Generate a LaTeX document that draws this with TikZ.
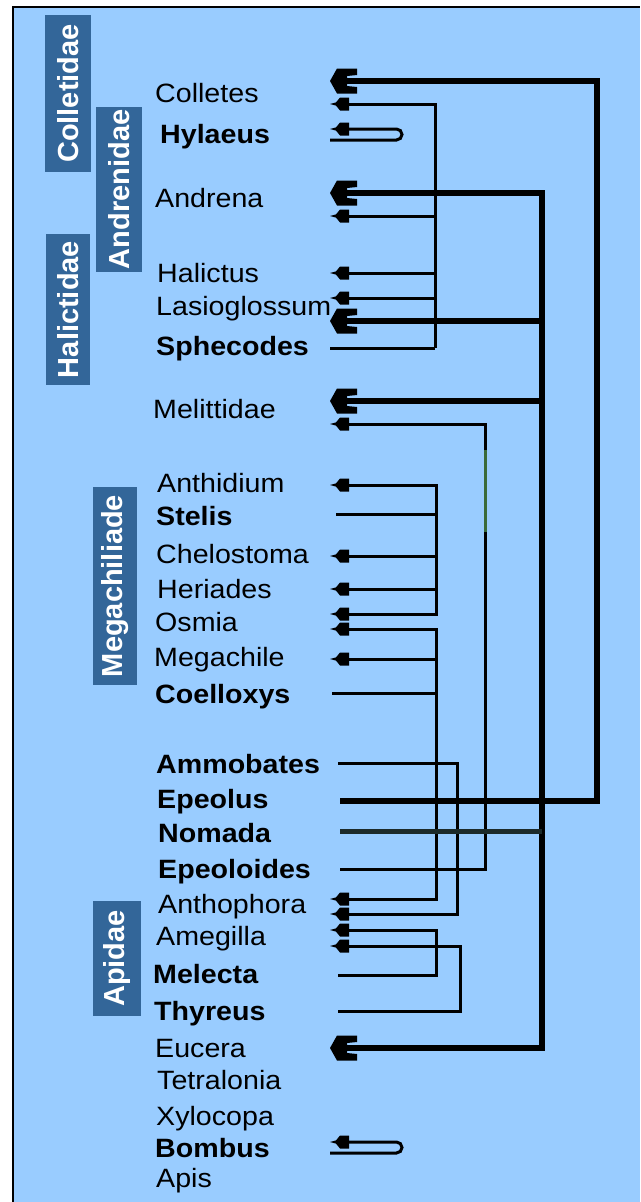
\documentclass[tikz,border=0pt]{standalone}
\usepackage{fontspec}
\setmainfont{Liberation Sans}[FakeStretch=1.08]
\newfontfamily\famfont{Liberation Sans}
\usetikzlibrary{arrows.meta}

\pgfdeclarearrow{
  name = BigHead,
  setup code = {
    \pgfarrowssettipend{0pt}
    \pgfarrowssetlineend{-12pt}
    \pgfarrowssetbackend{-27pt}
    \pgfarrowshullpoint{0pt}{0pt}
    \pgfarrowsupperhullpoint{-27pt}{12.5pt}
  },
  drawing code = {
    \pgfpathmoveto{\pgfqpoint{0pt}{0pt}}
    \pgfpathlineto{\pgfqpoint{-7pt}{12.5pt}}
    \pgfpathlineto{\pgfqpoint{-27pt}{12.5pt}}
    \pgfpathlineto{\pgfqpoint{-27pt}{6pt}}
    \pgfpathlineto{\pgfqpoint{-17pt}{5pt}}
    \pgfpathlineto{\pgfqpoint{-17pt}{-5pt}}
    \pgfpathlineto{\pgfqpoint{-27pt}{-6pt}}
    \pgfpathlineto{\pgfqpoint{-27pt}{-12.5pt}}
    \pgfpathlineto{\pgfqpoint{-7pt}{-12.5pt}}
    \pgfpathclose
    \pgfusepathqfill
  },
}
\pgfdeclarearrow{
  name = SmallHead,
  setup code = {
    \pgfarrowssettipend{0pt}
    \pgfarrowssetlineend{-9pt}
    \pgfarrowssetbackend{-19pt}
    \pgfarrowshullpoint{0pt}{0pt}
    \pgfarrowsupperhullpoint{-19pt}{6.5pt}
  },
  drawing code = {
    \pgfpathmoveto{\pgfqpoint{0pt}{0pt}}
    \pgfpathlineto{\pgfqpoint{-6pt}{1.6pt}}
    \pgfpathlineto{\pgfqpoint{-10pt}{6.5pt}}
    \pgfpathlineto{\pgfqpoint{-19pt}{6.5pt}}
    \pgfpathlineto{\pgfqpoint{-19pt}{-6.5pt}}
    \pgfpathlineto{\pgfqpoint{-10pt}{-6.5pt}}
    \pgfpathlineto{\pgfqpoint{-6pt}{-1.6pt}}
    \pgfpathclose
    \pgfusepathqfill
  },
}

\definecolor{panel}{HTML}{99CCFF}
\definecolor{fambox}{HTML}{336699}
\definecolor{nomcol}{HTML}{1C2A2A}
\definecolor{greenseg}{HTML}{3A6B3A}

\begin{document}
\begin{tikzpicture}[x=1pt,y=-1pt,
  lab/.style={anchor=base west, inner sep=0pt, text=black,
    font=\fontsize{26.5pt}{30pt}\selectfont},
  blab/.style={lab, font=\fontsize{26.5pt}{30pt}\selectfont\bfseries},
  fam/.style={fill=fambox, text=white, inner sep=0pt, rotate=90,
    font=\famfont\fontsize{29pt}{32pt}\selectfont\bfseries},
  conn/.style={line width=3pt, draw=black},
  sconn/.style={conn, -{SmallHead}},
  bconn/.style={line width=6.5pt, draw=black, -{BigHead}},
  nconn/.style={line width=5pt, draw=nomcol},
]
\useasboundingbox (0,0) rectangle (640,1202);
\fill[white] (0,0) rectangle (640,1202);
\fill[panel] (13,7) rectangle (640,1202);
\draw[line width=2.6pt] (13,1202) -- (13,7) -- (640,7);

% family boxes
\node[fam, minimum width=157pt, minimum height=45.6pt] (fColl) at (67.8,93.5) {Colletidae};
\node[fam, minimum width=165pt, minimum height=45.5pt] (fAndr) at (118.8,189.5) {Andrenidae};
\node[fam, minimum width=151pt, minimum height=44pt] (fHal) at (68,309.5) {Halictidae};
\node[fam, minimum width=198pt, minimum height=44pt] (fMeg) at (115,586) {Megachiliade};
\node[fam, minimum width=115pt, minimum height=48pt] (fApi) at (117,958.5) {Apidae};

% genus labels
\node[lab]  (colletes) at (155,102) {Colletes};
\node[blab] (hylaeus) at (160,143) {Hylaeus};
\node[lab]  (andrena) at (155,207.5) {Andrena};
\node[lab]  (halictus) at (157,282) {Halictus};
\node[lab]  (lasio) at (156,315) {Lasioglossum};
\node[blab] (sphecodes) at (156,355) {Sphecodes};
\node[lab]  (melittidae) at (153,418) {Melittidae};
\node[lab]  (anthidium) at (157,492) {Anthidium};
\node[blab] (stelis) at (156,525) {Stelis};
\node[lab]  (chelostoma) at (156,563) {Chelostoma};
\node[lab]  (heriades) at (157,598) {Heriades};
\node[lab]  (osmia) at (155,631) {Osmia};
\node[lab]  (megachile) at (154,666) {Megachile};
\node[blab] (coelloxys) at (155,703) {Coelloxys};
\node[blab] (ammobates) at (156,773) {Ammobates};
\node[blab] (epeolus) at (157,808) {Epeolus};
\node[blab] (nomada) at (158,842) {Nomada};
\node[blab] (epeoloides) at (158,878) {Epeoloides};
\node[lab]  (anthophora) at (158,913) {Anthophora};
\node[lab]  (amegilla) at (156,945) {Amegilla};
\node[blab] (melecta) at (153,983) {Melecta};
\node[blab] (thyreus) at (154,1020) {Thyreus};
\node[lab]  (eucera) at (155,1057) {Eucera};
\node[lab]  (tetralonia) at (157,1089) {Tetralonia};
\node[lab]  (xylocopa) at (156,1125) {Xylocopa};
\node[blab] (bombus) at (155,1157) {Bombus};
\node[lab]  (apis) at (156,1187) {Apis};

% connector end points
\coordinate (colB) at (330,81);
\coordinate (colA) at (330,104);
\coordinate (hylA) at (330,129);
\coordinate (hylS) at (330,140);
\coordinate (hylR1) at (402,140);
\coordinate (hylR2) at (402,129);
\coordinate (andB) at (330,193);
\coordinate (andA) at (330,216);
\coordinate (halA) at (330,273);
\coordinate (lasA) at (330,298);
\coordinate (lasB) at (330,321);
\coordinate (sphS) at (330,348);
\coordinate (sphJ) at (435,348);
\coordinate (melB) at (330,401);
\coordinate (melA) at (330,424);
\coordinate (antA) at (330,485);
\coordinate (steS) at (336,514);
\coordinate (steJ) at (436,514);
\coordinate (cheA) at (330,556);
\coordinate (herA) at (330,589);
\coordinate (osmA) at (330,614);
\coordinate (osmA2) at (330,629);
\coordinate (megA) at (330,659);
\coordinate (coeS) at (332,693);
\coordinate (coeJ) at (436,693);
\coordinate (ammS) at (338,763);
\coordinate (ammJ) at (457,763);
\coordinate (epeS) at (340,801);
\coordinate (epeJ) at (597,801);
\coordinate (nomS) at (340,831);
\coordinate (nomJ) at (542,831);
\coordinate (eplS) at (340,869);
\coordinate (eplJ) at (485,869);
\coordinate (athA) at (330,899);
\coordinate (athA2) at (330,914);
\coordinate (ameA) at (330,930);
\coordinate (ameA2) at (330,946);
\coordinate (mlcS) at (338,975);
\coordinate (mlcJ) at (436,975);
\coordinate (thyS) at (338,1011);
\coordinate (thyJ) at (460,1011);
\coordinate (eucB) at (330,1048);
\coordinate (bomA) at (330,1142);
\coordinate (bomS) at (330,1153);
\coordinate (bomR1) at (402,1153);
\coordinate (bomR2) at (402,1142);

% Hylaeus and Bombus self loops
\draw[sconn, rounded corners=5.5pt] (hylS) -- (hylR1) -- (hylR2) -- (hylA);
\draw[sconn, rounded corners=5.5pt] (bomS) -- (bomR1) -- (bomR2) -- (bomA);

% Sphecodes
\draw[conn] (sphS) -- (sphJ);
\draw[sconn] (sphJ) |- (colA);
\draw[sconn] (sphJ) |- (andA);
\draw[sconn] (sphJ) |- (halA);
\draw[sconn] (sphJ) |- (lasA);

% Stelis
\draw[conn] (steS) -- (steJ);
\draw[sconn] (steJ) |- (antA);
\draw[sconn] (steJ) |- (cheA);
\draw[sconn] (steJ) |- (herA);
\draw[sconn] (steJ) |- (osmA);

% Coelloxys
\draw[conn] (coeS) -- (coeJ);
\draw[sconn] (coeJ) |- (osmA2);
\draw[sconn] (coeJ) |- (megA);
\draw[sconn] (coeJ) |- (athA);

% Ammobates
\draw[sconn] (ammS) -- (ammJ) |- (athA2);
% Melecta
\draw[sconn] (mlcS) -- (mlcJ) |- (ameA);
% Thyreus
\draw[sconn] (thyS) -- (thyJ) |- (ameA2);
% Epeoloides
\draw[sconn] (eplS) -- (eplJ) |- (melA);
\draw[line width=3pt, greenseg] (485,450) -- (485,532);

% Nomada
\draw[bconn] (nomJ) |- (andB);
\draw[bconn] (nomJ) |- (lasB);
\draw[bconn] (nomJ) |- (melB);
\draw[bconn] (nomJ) |- (eucB);
\draw[nconn] (nomS) -- (nomJ);

% Epeolus
\draw[bconn] (epeS) -- (epeJ) |- (colB);
\end{tikzpicture}
\end{document}
